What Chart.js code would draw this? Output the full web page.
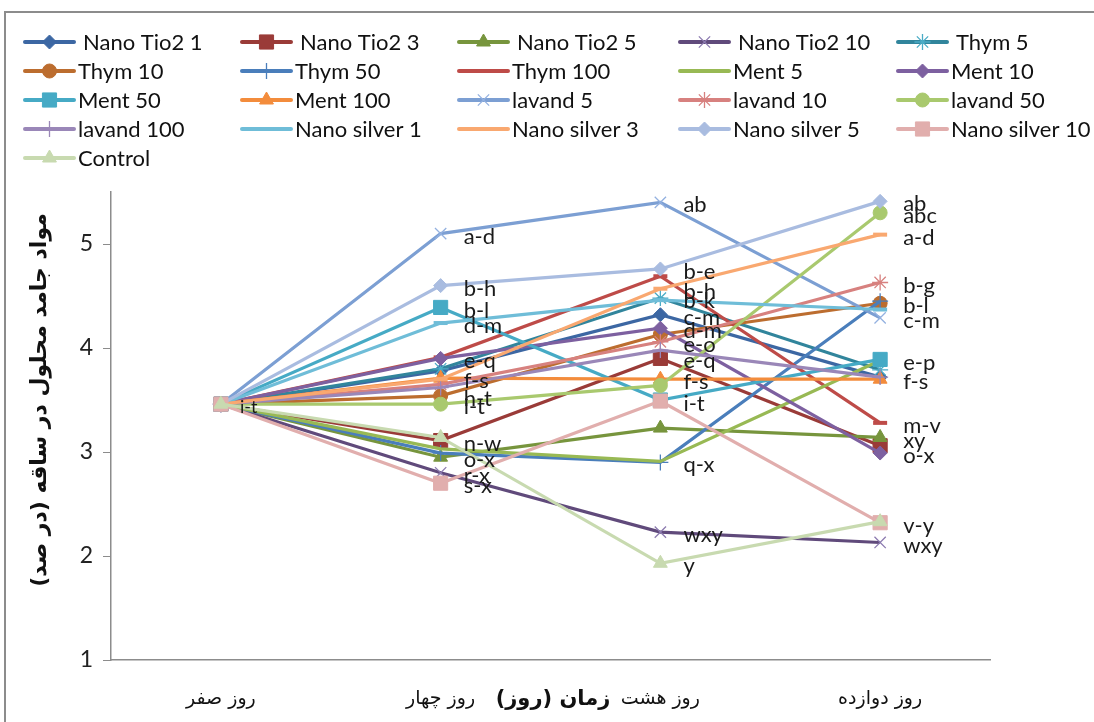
<!DOCTYPE html>
<html><head><meta charset="utf-8">
<script src="https://cdn.jsdelivr.net/npm/chart.js@4.4.1/dist/chart.umd.min.js"></script>
<style>html,body{margin:0;padding:0;background:#fff;overflow:hidden}#wrap{width:1094px;height:722px}</style>
</head><body><div id="wrap"><canvas id="c" width="1094" height="722"></canvas></div>
<script>
// ---------- data ----------
const categories = ['روز صفر', 'روز چهار', 'روز هشت', 'روز دوازده'];
const yTitle = 'مواد جامد محلول در ساقه (در صد)';
const xTitle = 'زمان (روز)';
const yTicks = [1, 2, 3, 4, 5];

const seriesNames = ['Nano Tio2 1','Nano Tio2 3','Nano Tio2 5','Nano Tio2 10','Thym 5',
  'Thym 10','Thym 50','Thym 100','Ment 5','Ment 10',
  'Ment 50','Ment 100','lavand 5','lavand 10','lavand 50',
  'lavand 100','Nano silver 1','Nano silver 3','Nano silver 5','Nano silver 10','Control'];

const nanoTio2_1  = [3.46, 3.78, 4.32, 3.72];
const nanoTio2_3  = [3.46, 3.11, 3.90, 3.06];
const nanoTio2_5  = [3.46, 2.95, 3.23, 3.14];
const nanoTio2_10 = [3.46, 2.80, 2.23, 2.13];
const thym5       = [3.46, 3.80, 4.48, 3.79];
const thym10      = [3.46, 3.54, 4.13, 4.43];
const thym50      = [3.46, 2.99, 2.90, 4.45];
const thym100     = [3.46, 3.91, 4.69, 3.28];
const ment5       = [3.46, 3.03, 2.91, 3.88];
const ment10      = [3.46, 3.90, 4.19, 2.99];
const ment50      = [3.46, 4.39, 3.50, 3.89];
const ment100     = [3.46, 3.71, 3.70, 3.70];
const lavand5     = [3.46, 5.10, 5.40, 4.29];
const lavand10    = [3.46, 3.65, 4.06, 4.63];
const lavand50    = [3.46, 3.46, 3.64, 5.30];
const lavand100   = [3.46, 3.62, 3.98, 3.72];
const nanoSilver1 = [3.46, 4.24, 4.46, 4.37];
const nanoSilver3 = [3.46, 3.70, 4.57, 5.09];
const nanoSilver5 = [3.46, 4.60, 4.76, 5.41];
const nanoSilver10= [3.46, 2.70, 3.49, 2.32];
const control     = [3.46, 3.14, 1.93, 2.33];

// significance letters per series (day0, day4, day8, day12)
const let_nanoTio2_1  = ['i-t', null, 'c-m', null];
const let_nanoTio2_3  = [null, 'n-w', 'e-q', null];
const let_nanoTio2_5  = [null, 'o-x', null, 'xy'];
const let_nanoTio2_10 = [null, 'r-x', 'wxy', 'wxy'];
const let_thym5       = [null, null, 'b-k', null];
const let_thym10      = [null, 'h-t', null, 'b-l'];
const let_thym50      = [null, null, 'q-x', null];
const let_thym100     = [null, null, null, 'm-v'];
const let_ment5       = [null, null, null, null];
const let_ment10      = [null, 'e-q', 'd-m', 'o-x'];
const let_ment50      = [null, 'b-l', null, 'e-p'];
const let_ment100     = [null, 'f-s', 'f-s', 'f-s'];
const let_lavand5     = [null, 'a-d', 'ab', 'c-m'];
const let_lavand10    = [null, null, 'e-o', 'b-g'];
const let_lavand50    = [null, 'i-t', null, 'abc'];
const let_lavand100   = [null, null, null, null];
const let_nanoSilver1 = [null, 'd-m', null, null];
const let_nanoSilver3 = [null, null, 'b-h', 'a-d'];
const let_nanoSilver5 = [null, 'b-h', 'b-e', 'ab'];
const let_nanoSilver10= [null, 's-x', 'i-t', 'v-y'];
const let_control     = [null, null, 'y', null];

const seriesValues = [nanoTio2_1,nanoTio2_3,nanoTio2_5,nanoTio2_10,thym5,thym10,thym50,thym100,ment5,ment10,
  ment50,ment100,lavand5,lavand10,lavand50,lavand100,nanoSilver1,nanoSilver3,nanoSilver5,nanoSilver10,control];
const seriesLetters = [let_nanoTio2_1,let_nanoTio2_3,let_nanoTio2_5,let_nanoTio2_10,let_thym5,let_thym10,let_thym50,
  let_thym100,let_ment5,let_ment10,let_ment50,let_ment100,let_lavand5,let_lavand10,let_lavand50,let_lavand100,
  let_nanoSilver1,let_nanoSilver3,let_nanoSilver5,let_nanoSilver10,let_control];

// ---------- styles ----------
const colors = ['#3C67A3','#9A3B38','#77953D','#604A7B','#31859C',
  '#BC6D2F','#4A7EBB','#BE4B48','#98B954','#7D60A0',
  '#46AAC5','#F38C3C','#7C9FD3','#D7817F','#A9C96E',
  '#9A87B8','#6FBDD8','#F9A870','#A9BCE0','#E1AEAD','#C8DAB0'];
const markerColors = ['#3C67A3','#9A3B38','#77953D','#8C7BB0','#4BACC6',
  '#BC6D2F','#4A7EBB','#BE4B48','#98B954','#7D60A0',
  '#46AAC5','#F38C3C','#93B1E0','#D7817F','#A9C96E',
  '#9A87B8','#6FBDD8','#F9A870','#A9BCE0','#E1AEAD','#C8DAB0'];
const markers = [
  ['rectRot',7,1],['rect',10,1],['triangle',8,1],['crossRot',8,1.3],['star',8,1.3],
  ['circle',7,1],['cross',8,1.3],['line',7,4],['circle',0,0],['rectRot',7,1],
  ['rect',10,1],['triangle',8,1],['crossRot',8,1.3],['star',8,1.3],['circle',7,1],
  ['cross',8,1.3],['line',7,4],['line',7,4],['rectRot',7,1],['rect',10,1],['triangle',8,1]];

const N = seriesNames.length;
const datasets = seriesNames.map((name, i) => ({
  label: name,
  data: seriesValues[i],
  letters: seriesLetters[i],
  borderColor: colors[i],
  backgroundColor: markerColors[i],
  borderWidth: 3.2,
  tension: 0,
  fill: false,
  pointStyle: markers[i][0],
  pointRadius: markers[i][1],
  pointHoverRadius: markers[i][1],
  pointBorderWidth: markers[i][2],
  pointBackgroundColor: markerColors[i],
  pointBorderColor: markerColors[i],
  order: N - 1 - i
}));

const LATIN = 'Lato, "Open Sans", sans-serif';
const ARABIC = '"DejaVu Sans", sans-serif';

const framePlugin = {
  id: 'frame',
  beforeDraw(chart) {
    const ctx = chart.ctx;
    ctx.save();
    ctx.fillStyle = '#fff';
    ctx.fillRect(0, 0, chart.width, chart.height);
    ctx.strokeStyle = '#8c8c8c';
    ctx.lineWidth = 2;
    ctx.beginPath();
    ctx.moveTo(5, chart.height + 2);
    ctx.lineTo(5, 12);
    ctx.lineTo(chart.width + 2, 12);
    ctx.stroke();
    ctx.restore();
  }
};

const lettersPlugin = {
  id: 'letters',
  afterDatasetsDraw(chart) {
    const ctx = chart.ctx;
    ctx.save();
    ctx.fillStyle = '#1a1a1a';
    ctx.textAlign = 'left';
    ctx.textBaseline = 'middle';
    chart.data.datasets.forEach((ds, i) => {
      const meta = chart.getDatasetMeta(i);
      ds.letters.forEach((t, j) => {
        if (!t) return;
        const p = meta.data[j];
        ctx.font = (j === 0 ? '18px ' : '22px ') + LATIN;
        ctx.fillText(t, p.x + (j === 0 ? 19 : 23), p.y + 3);
      });
    });
    ctx.restore();
  }
};

const legendCols = [25, 242, 459, 680, 898];
const legendRows = [42, 71, 100, 129, 158];
const legendPlugin = {
  id: 'gridLegend',
  afterDraw(chart) {
    const ctx = chart.ctx;
    const H = Chart.helpers;
    ctx.save();
    chart.data.datasets.forEach((ds, i) => {
      const x = legendCols[i % 5], y = legendRows[Math.floor(i / 5)];
      ctx.strokeStyle = ds.borderColor;
      ctx.lineWidth = 4;
      ctx.lineCap = 'round';
      ctx.beginPath(); ctx.moveTo(x, y); ctx.lineTo(x + 49, y); ctx.stroke();
      ctx.lineCap = 'butt';
      if (ds.pointRadius > 0 && H && H.drawPoint) {
        ctx.fillStyle = ds.pointBackgroundColor;
        ctx.strokeStyle = ds.pointBorderColor;
        ctx.lineWidth = ds.pointBorderWidth;
        H.drawPoint(ctx, {pointStyle: ds.pointStyle, radius: ds.pointRadius, borderWidth: ds.pointBorderWidth, rotation: 0}, x + 24.5, y);
      }
      ctx.fillStyle = '#111';
      ctx.font = '22px ' + LATIN;
      ctx.textAlign = 'left';
      ctx.textBaseline = 'middle';
      ctx.fillText(ds.label, x + 49 + (i < 5 ? 9 : 4), y + 1);
    });
    ctx.restore();
  }
};

const titlesPlugin = {
  id: 'axisTitles',
  afterDraw(chart) {
    const ctx = chart.ctx;
    ctx.save();
    ctx.fillStyle = '#111';
    ctx.direction = 'rtl';
    ctx.textAlign = 'center';
    ctx.textBaseline = 'middle';
    ctx.font = 'bold 21px ' + ARABIC;
    ctx.fillText(xTitle, 553, 700);
    ctx.font = 'bold 22px ' + ARABIC;
    ctx.translate(40, 400);
    ctx.rotate(-Math.PI / 2);
    ctx.fillText(yTitle, 0, 0);
    ctx.restore();
  }
};

new Chart(document.getElementById('c'), {
  type: 'line',
  data: { labels: categories, datasets },
  options: {
    responsive: false,
    animation: false,
    events: [],
    layout: { padding: { top: 192, right: 104, bottom: 0, left: 0 } },
    plugins: { legend: { display: false }, tooltip: { enabled: false }, title: { display: false } },
    scales: {
      x: {
        type: 'category',
        offset: true,
        grid: { display: true, drawOnChartArea: false, drawTicks: false },
        border: { display: true, color: '#8c8c8c', width: 1.5 },
        ticks: { color: '#111', font: { family: ARABIC, size: 19 }, padding: 28, maxRotation: 0, autoSkip: false },
        afterFit(s) { s.height = 62; }
      },
      y: {
        min: 1, max: 5.5,
        afterBuildTicks(s) { s.ticks = yTicks.map(v => ({ value: v })); },
        grid: { display: true, drawOnChartArea: false, drawTicks: true, tickLength: 8, color: '#8c8c8c' },
        border: { display: true, color: '#8c8c8c', width: 1.5 },
        ticks: { color: '#222', font: { family: LATIN, size: 23 }, padding: 10 },
        afterFit(s) { s.width = 111; }
      }
    }
  },
  plugins: [framePlugin, lettersPlugin, legendPlugin, titlesPlugin]
});
</script>
</body></html>
